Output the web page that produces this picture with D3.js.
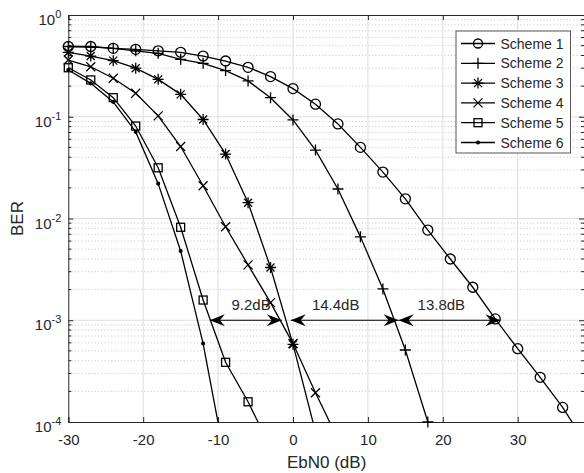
<!DOCTYPE html>
<html>
<head>
<meta charset="utf-8">
<script src="https://cdn.jsdelivr.net/npm/d3@7"></script>
<style>
  body { margin: 0; background: #fff; }
  text { font-family: "Liberation Sans", Arial, sans-serif; fill: #262626; }
</style>
</head>
<body>
<div id="chart"></div>
<script>
// values
var snr1 = [-30, -27, -24, -21, -18, -15, -12, -9, -6, -3, 0, 3, 6, 9, 12, 15, 18, 21, 24, 27, 30, 33, 36, 39];
var ber1 = [0.49, 0.49, 0.47, 0.46, 0.445, 0.43, 0.395, 0.353, 0.306, 0.248, 0.189, 0.133, 0.085, 0.050, 0.0286, 0.0156, 0.0077, 0.0040, 0.00211, 0.00103, 0.000525, 0.000275, 0.000139, 0.000063];

var snr2 = [-30, -27, -24, -21, -18, -15, -12, -9, -6, -3, 0, 3, 6, 9, 12, 15, 18];
var ber2 = [0.49, 0.485, 0.47, 0.445, 0.42, 0.367, 0.335, 0.284, 0.225, 0.154, 0.093, 0.047, 0.0195, 0.0066, 0.00203, 0.00051, 0.0001];

var snr3 = [-30, -27, -24, -21, -18, -15, -12, -9, -6, -3, 0, 3];
var ber3 = [0.43, 0.395, 0.356, 0.30, 0.233, 0.166, 0.094, 0.043, 0.0143, 0.0033, 0.00058, 0.00008];

var snr4 = [-30, -27, -24, -21, -18, -15, -12, -9, -6, -3, 0, 3, 6];
var ber4 = [0.361, 0.31, 0.239, 0.17, 0.102, 0.051, 0.021, 0.0083, 0.0035, 0.00149, 0.00059, 0.000194, 0.000068];

var snr5 = [-30, -27, -24, -21, -18, -15, -12, -9, -6, -3];
var ber5 = [0.303, 0.23, 0.154, 0.081, 0.0315, 0.0082, 0.00158, 0.000386, 0.000158, 0.000056];

var snr6 = [-30, -27, -24, -21, -18, -15, -12, -9];
var ber6 = [0.288, 0.213, 0.14, 0.071, 0.022, 0.0048, 0.00059, 0.00004];

var names = ["Scheme 1", "Scheme 2", "Scheme 3", "Scheme 4", "Scheme 5", "Scheme 6"];
var markers = ["circle", "plus", "star", "cross", "square", "dot"];

var xTicks = [-30, -20, -10, 0, 10, 20, 30];
var yExps = [0, -1, -2, -3, -4];

// gap annotations at BER = 1e-3
var gapFrom = [-11.1, -0.3, 14.1];
var gapTo = [-1.5, 14.1, 27.7];
var gapLabel = ["9.2dB", "14.4dB", "13.8dB"];
var gapLabelX = [-5.6, 5.7, 19.8];
var gapBer = 1e-3;

var margin = {left: 68.3, top: 15, right: 0, bottom: 51};
var width = 584 - margin.left,
    height = 473 - margin.top - margin.bottom;

var svg = d3.select("#chart")
    .append("svg")
    .attr("width", 584)
    .attr("height", 473);

var x = d3.scaleLinear().domain([-30, 38.85]).range([0, width]),
    y = d3.scaleLog().domain([1e-4, 1]).range([height, 0]);

var g = svg.append("g")
    .attr("transform", "translate(" + margin.left + "," + margin.top + ")");

g.append("clipPath").attr("id", "clip")
  .append("rect").attr("width", width).attr("height", height);

// minor grid (log axis only)
var minor = [];
yExps.slice(0, 4).forEach(function(e) {
  for (var k = 2; k <= 9; k++) minor.push(k * Math.pow(10, e - 1));
});

g.selectAll(".minor")
    .data(minor)
    .enter().append("line")
    .attr("x1", 0).attr("x2", width)
    .attr("y1", function(d) { return y(d); })
    .attr("y2", function(d) { return y(d); })
    .style("stroke", "#c4c4c4")
    .style("stroke-dasharray", "1,2.3");

// major grid
g.selectAll(".gx")
    .data(xTicks.slice(1))
    .enter().append("line")
    .attr("x1", function(d) { return x(d); })
    .attr("x2", function(d) { return x(d); })
    .attr("y1", 0).attr("y2", height)
    .style("stroke", "#dedede");

g.selectAll(".gy")
    .data(yExps.slice(1, 4))
    .enter().append("line")
    .attr("x1", 0).attr("x2", width)
    .attr("y1", function(d) { return y(Math.pow(10, d)); })
    .attr("y2", function(d) { return y(Math.pow(10, d)); })
    .style("stroke", "#dedede");

// axes
var xAxis = g.append("g")
    .attr("transform", "translate(0," + height + ")")
    .call(d3.axisBottom(x).tickValues(xTicks).tickSize(-5).tickPadding(12)
      .tickFormat(function(d) { return d; }));
xAxis.selectAll("text").style("font-size", "15px").attr("dy", "0.75em");

g.append("g")
    .call(d3.axisTop(x).tickValues(xTicks).tickSize(-5).tickFormat(""));

var yAxis = g.append("g")
    .call(d3.axisLeft(y).tickValues(yExps.map(function(e) { return Math.pow(10, e); }))
      .tickSize(-5).tickFormat(""));

g.append("g")
    .attr("transform", "translate(" + width + ",0)")
    .call(d3.axisRight(y).tickValues(yExps.map(function(e) { return Math.pow(10, e); }))
      .tickSize(-5).tickFormat(""));

g.selectAll(".ymt")
    .data(minor)
    .enter().append("g")
    .each(function(d) {
      var s = d3.select(this);
      s.append("line").attr("x1", 0).attr("x2", 3).attr("y1", y(d)).attr("y2", y(d));
      s.append("line").attr("x1", width).attr("x2", width - 3).attr("y1", y(d)).attr("y2", y(d));
    })
    .style("stroke", "#262626");

g.selectAll(".domain").style("stroke", "#262626");
g.selectAll(".tick line").style("stroke", "#262626");

// y tick labels 10^n
var yl = g.selectAll(".ylab")
    .data(yExps)
    .enter().append("text")
    .attr("x", -7)
    .attr("y", function(d) { return y(Math.pow(10, d)) + 10; })
    .attr("text-anchor", "end")
    .style("font-size", "15px");
yl.append("tspan").text("10");
yl.append("tspan").attr("dy", -7).style("font-size", "11px").text(function(d) { return d; });

g.append("text")
    .attr("x", width / 2 + 0.5)
    .attr("y", height + 46)
    .attr("text-anchor", "middle")
    .style("font-size", "17px")
    .text("EbN0 (dB)");

g.append("text")
    .attr("transform", "translate(" + (-45.5) + "," + (height / 2) + ") rotate(-90)")
    .attr("text-anchor", "middle")
    .style("font-size", "17px")
    .text("BER");

// markers
function marker(sel, type) {
  if (type === "circle") {
    sel.append("circle").attr("r", 5).style("fill", "none");
  } else if (type === "square") {
    sel.append("rect").attr("x", -4).attr("y", -4).attr("width", 8).attr("height", 8).style("fill", "none");
  } else if (type === "plus") {
    sel.append("path").attr("d", "M-5.5,0H5.5M0,-5.5V5.5");
  } else if (type === "cross") {
    sel.append("path").attr("d", "M-4.5,-4.5L4.5,4.5M-4.5,4.5L4.5,-4.5");
  } else if (type === "star") {
    sel.append("path").attr("d", "M-5.5,0H5.5M0,-5.5V5.5M-4,-4L4,4M-4,4L4,-4");
  } else {
    sel.append("circle").attr("r", 1.4).style("fill", "#000");
  }
  sel.style("stroke", "#000").style("stroke-width", 1.3);
}

var series = [[snr1, ber1], [snr2, ber2], [snr3, ber3], [snr4, ber4], [snr5, ber5], [snr6, ber6]];

var line = d3.line()
    .x(function(d) { return x(d[0]); })
    .y(function(d) { return y(d[1]); });

series.forEach(function(s, i) {
  var pts = s[0].map(function(v, j) { return [v, s[1][j]]; });
  g.append("path")
      .datum(pts)
      .attr("clip-path", "url(#clip)")
      .attr("d", line)
      .style("fill", "none")
      .style("stroke", "#000")
      .style("stroke-width", 1.3);
  g.selectAll(".m" + i)
      .data(pts.filter(function(d) { return d[1] >= 1e-4 * 0.999 && d[0] <= 38.85; }))
      .enter().append("g")
      .attr("transform", function(d) { return "translate(" + x(d[0]) + "," + y(d[1]) + ")"; })
      .each(function() { marker(d3.select(this), markers[i]); });
});

// gap arrows
function head(tx, ty, dir) {
  return "M" + tx + "," + ty +
    "L" + (tx - dir * 15) + "," + (ty - 6) +
    "L" + (tx - dir * 10) + "," + ty +
    "L" + (tx - dir * 15) + "," + (ty + 6) + "Z";
}

gapFrom.forEach(function(a, i) {
  var b = gapTo[i], yy = y(gapBer);
  g.append("line")
      .attr("x1", x(a)).attr("x2", x(b))
      .attr("y1", yy).attr("y2", yy)
      .style("stroke", "#000").style("stroke-width", 1);
  g.append("path").attr("d", head(x(a), yy, -1)).style("fill", "#000");
  g.append("path").attr("d", head(x(b), yy, 1)).style("fill", "#000");
  g.append("text")
      .attr("x", x(gapLabelX[i]))
      .attr("y", yy - 10)
      .attr("text-anchor", "middle")
      .style("font-size", "15px")
      .text(gapLabel[i]);
});

// legend
var leg = g.append("g")
    .attr("transform", "translate(" + (456 - margin.left) + "," + (31 - margin.top) + ")");

leg.append("rect")
    .attr("width", 114.5)
    .attr("height", 122)
    .style("fill", "#fff")
    .style("stroke", "#555")
    .style("stroke-width", 1);

names.forEach(function(n, i) {
  var yy = 12.5 + i * 19.8;
  leg.append("line")
      .attr("x1", 5).attr("x2", 39)
      .attr("y1", yy).attr("y2", yy)
      .style("stroke", "#000").style("stroke-width", 1.3);
  var m = leg.append("g").attr("transform", "translate(22," + yy + ")");
  marker(m, markers[i]);
  m.selectAll("circle").attr("r", function() { return markers[i] === "circle" ? 4.5 : 1.4; });
  leg.append("text")
      .attr("x", 44.5)
      .attr("y", yy + 5)
      .style("font-size", "14px")
      .text(n);
});
</script>
</body>
</html>
